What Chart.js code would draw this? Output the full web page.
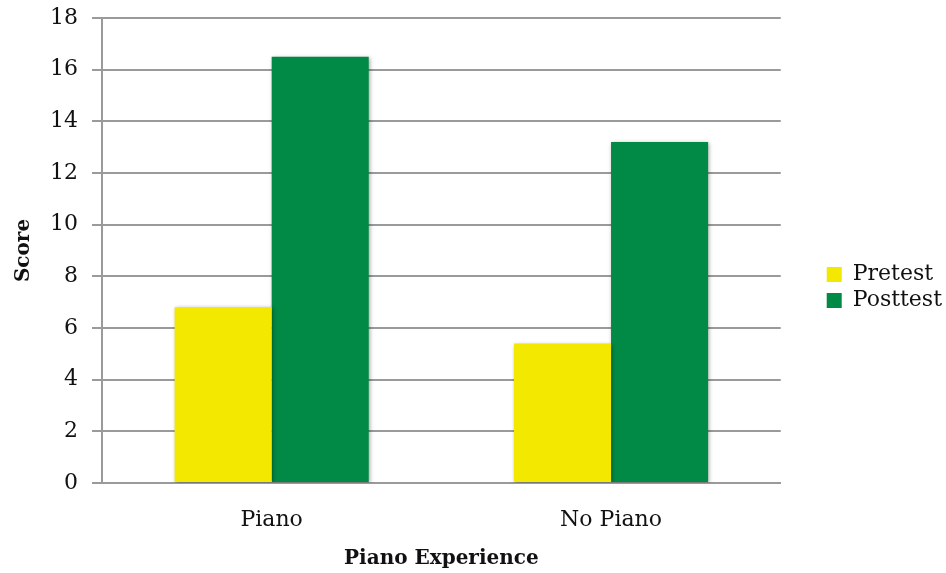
<!DOCTYPE html>
<html>
<head>
<meta charset="utf-8">
<script src="https://cdn.jsdelivr.net/npm/chart.js@4/dist/chart.umd.min.js"></script>
<style>
  html, body { margin: 0; padding: 0; background: #fff; }
  #wrap { position: relative; width: 946px; height: 573px; }
</style>
</head>
<body>
<div id="wrap"><canvas id="chart"></canvas></div>
<script>
const categories = ['Piano', 'No Piano'];
const pretest = [6.8, 5.4];
const posttest = [16.5, 13.2];
const yTicks = [0, 2, 4, 6, 8, 10, 12, 14, 16, 18];

const serif = "'DejaVu Serif', serif";
const gridGray = '#9a9a9a';

// soft drop shadow under the bars, like the office chart
const barShadow = {
    id: 'barShadow',
    beforeDatasetsDraw(chart) {
        const ctx = chart.ctx;
        ctx.save();
        ctx.shadowColor = 'rgba(0,0,0,0.35)';
        ctx.shadowBlur = 4;
        ctx.shadowOffsetX = 1;
        ctx.shadowOffsetY = 1;
    },
    afterDatasetsDraw(chart) {
        chart.ctx.restore();
    }
};

// legend measures a bit wide, trim it so the items sit closer to the edge
const legendTrim = {
    id: 'legendTrim',
    beforeLayout(chart) {
        const lg = chart.legend;
        if (lg && !lg._trimmed) {
            const fit = lg.fit.bind(lg);
            lg.fit = function () {
                fit();
                this.width -= 6;
            };
            lg._trimmed = true;
        }
    }
};

const ctx = document.getElementById('chart').getContext('2d');
new Chart(ctx, {
    type: 'bar',
    data: {
        labels: categories,
        datasets: [
            {
                label: 'Pretest',
                data: pretest,
                backgroundColor: '#F3E800',
                borderWidth: 0,
                categoryPercentage: 0.572,
                barPercentage: 1.0
            },
            {
                label: 'Posttest',
                data: posttest,
                backgroundColor: '#008A45',
                borderWidth: 0,
                categoryPercentage: 0.572,
                barPercentage: 1.0
            }
        ]
    },
    options: {
        responsive: true,
        maintainAspectRatio: false,
        animation: false,
        layout: {
            padding: { left: 4, top: 4, right: 0, bottom: 2 }
        },
        scales: {
            x: {
                grid: { display: false, drawTicks: false },
                border: { display: true, color: gridGray, width: 2 },
                ticks: {
                    color: '#111',
                    padding: 24,
                    maxRotation: 0,
                    font: { family: serif, size: 22 }
                },
                title: {
                    display: true,
                    text: 'Piano Experience',
                    color: '#111',
                    padding: { top: 12, bottom: 0 },
                    font: { family: serif, size: 20, weight: 'bold' }
                },
                afterFit: (axis) => { axis.height = 88; }
            },
            y: {
                min: 0,
                max: 18,
                afterBuildTicks: (axis) => {
                    axis.ticks = yTicks.map(v => ({ value: v }));
                },
                grid: {
                    color: gridGray,
                    lineWidth: 2,
                    tickLength: 10,
                    tickColor: gridGray
                },
                border: { display: true, color: gridGray, width: 2 },
                ticks: {
                    color: '#111',
                    padding: 14,
                    font: { family: serif, size: 22 }
                },
                title: {
                    display: true,
                    text: 'Score',
                    color: '#111',
                    padding: { top: 8, bottom: 13 },
                    font: { family: serif, size: 20, weight: 'bold' }
                },
                afterFit: (axis) => {
                    axis.width = 98;
                    axis.paddingTop = 18;
                    axis.paddingBottom = 13;
                }
            },
            // empty right-hand spacer between plot and legend
            gap: {
                type: 'linear',
                position: 'right',
                display: true,
                grid: { display: false, drawTicks: false },
                border: { display: false },
                ticks: { display: false },
                afterFit: (axis) => {
                    axis.width = 42;
                    axis.paddingTop = 0;
                    axis.paddingBottom = 0;
                }
            }
        },
        plugins: {
            legend: {
                position: 'right',
                labels: {
                    boxWidth: 15,
                    boxHeight: 15,
                    padding: 4,
                    color: '#111',
                    font: { family: serif, size: 22 }
                }
            },
            tooltip: { enabled: false },
            title: { display: false }
        }
    },
    plugins: [barShadow, legendTrim]
});
</script>
</body>
</html>
